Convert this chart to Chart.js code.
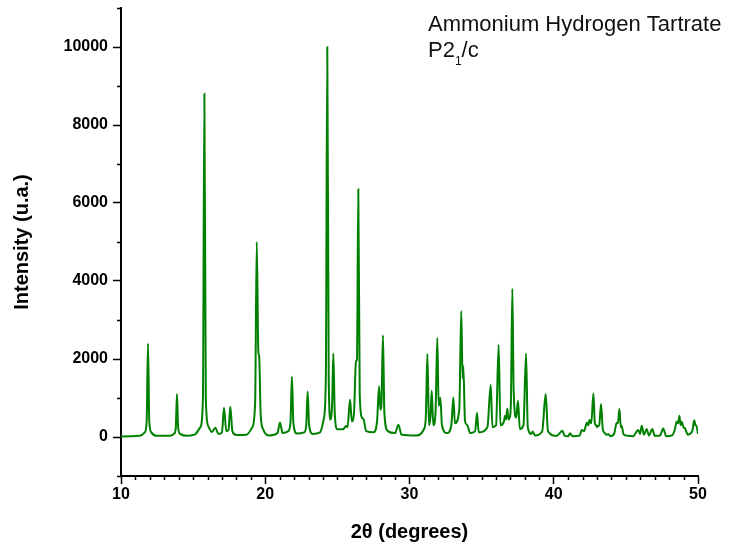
<!DOCTYPE html>
<html>
<head>
<meta charset="utf-8">
<title>Ammonium Hydrogen Tartrate – XRD</title>
<script src="https://cdn.jsdelivr.net/npm/chart.js@4.4.1/dist/chart.umd.min.js"></script>
<style>
  html, body { margin: 0; padding: 0; background: #fff; }
  #wrap { width: 738px; height: 547px; position: relative; }
</style>
</head>
<body>
<div id="wrap"><canvas id="xrd"></canvas></div>
<script>
'use strict';

/* ─── Data (2θ in degrees, intensity in u.a.) ─── */
const twoTheta = [
  10.0, 11.3, 11.65, 11.78, 11.87, 11.96, 12.1, 12.5,
  13.4, 13.7, 13.8, 13.88, 13.96, 14.1, 14.6,
  15.1, 15.5, 15.68, 15.78, 15.88, 16.05, 16.3, 16.54, 16.75,
  17.0, 17.14, 17.3, 17.45, 17.58, 17.72, 18.0,
  18.7, 19.1, 19.3, 19.41, 19.52, 19.58, 19.68, 19.85,
  20.3, 20.85, 21.02, 21.2, 21.6, 21.75, 21.85, 21.95, 22.2,
  22.7, 22.84, 22.94, 23.04, 23.3,
  23.8, 24.05, 24.2, 24.3, 24.4, 24.52, 24.64, 24.72, 24.82, 25.0,
  25.4, 25.6, 25.7, 25.88, 26.0, 26.15, 26.29, 26.36, 26.45, 26.55, 26.7, 26.82, 27.0,
  27.5, 27.75, 27.89, 27.98, 28.05, 28.16, 28.26, 28.5,
  29.0, 29.23, 29.45,
  30.5, 31.0, 31.13, 31.24, 31.35, 31.45, 31.54, 31.65, 31.8, 31.93, 32.02, 32.14, 32.25,
  32.6, 32.9, 33.04, 33.15, 33.45, 33.59, 33.68, 33.73, 33.85, 34.01, 34.2,
  34.55, 34.68, 34.8, 35.4, 35.63, 35.75,
  36.0, 36.18, 36.3, 36.55, 36.62, 36.7, 36.78, 36.86, 36.95, 37.03, 37.13, 37.22, 37.4, 37.52, 37.65,
  37.9, 38.08, 38.2, 38.45, 38.54, 38.7,
  39.2, 39.44, 39.6, 40.2, 40.6, 40.75, 41.0, 41.13, 41.3,
  41.8, 41.94, 42.1, 42.3, 42.4, 42.47, 42.6, 42.75, 42.85, 42.93, 43.0, 43.05, 43.15, 43.28, 43.4,
  43.55, 43.65, 43.78, 43.95, 44.2, 44.36, 44.45, 44.55, 44.65, 44.71, 44.85,
  45.5, 45.86, 45.98, 46.1, 46.25, 46.44, 46.6, 46.83, 47.0,
  47.35, 47.59, 47.8, 48.2, 48.4, 48.52, 48.62, 48.71, 48.8, 48.87, 49.0, 49.1, 49.3,
  49.6, 49.74, 49.82, 49.88, 50.0
];

const intensity = [
  10, 30, 120, 400, 2400, 400, 120, 30,
  30, 90, 250, 1100, 250, 80, 30,
  60, 250, 1000, 8800, 1000, 280, 130, 240, 80,
  120, 750, 150, 180, 775, 150, 50,
  60, 250, 900, 5000, 2200, 2070, 600, 200,
  40, 100, 375, 100, 150, 400, 1550, 350, 90,
  120, 300, 1165, 300, 80,
  120, 450, 1500, 10000, 1500, 450, 900, 2140, 600, 200,
  200, 280, 250, 960, 400, 600, 1940, 2000, 6350, 1100, 500, 450, 150,
  120, 400, 1300, 700, 800, 2610, 600, 150,
  100, 315, 60,
  40, 200, 500, 2130, 300, 500, 1185, 300, 600, 2540, 800, 1005, 300,
  100, 300, 1015, 350, 700, 3230, 1500, 1825, 400, 305, 100,
  150, 620, 120, 250, 1340, 250,
  300, 2370, 300, 400, 545, 450, 730, 450, 500, 900, 3800, 1200, 500, 930, 200,
  300, 2140, 250, 80, 140, 40,
  150, 1100, 150, 30, 160, 30, 20, 95, 20,
  40, 180, 150, 365, 300, 435, 350, 1115, 350, 305, 250, 280, 300, 845, 200,
  95, 60, 70, 20, 100, 365, 350, 715, 250, 280, 60,
  20, 180, 80, 290, 60, 205, 40, 205, 30,
  30, 215, 20, 40, 200, 390, 350, 545, 300, 390, 250, 220, 60,
  150, 430, 300, 300, 80
];

/* ─── Axes ─── */
const xMajorTicks = [10, 20, 30, 40, 50];
const xMinorTicks = [11, 12, 13, 14, 15, 16, 17, 18, 19, 21, 22, 23, 24, 25, 26, 27, 28, 29,
                     31, 32, 33, 34, 35, 36, 37, 38, 39, 41, 42, 43, 44, 45, 46, 47, 48, 49];
const yMajorTicks = [0, 2000, 4000, 6000, 8000, 10000];
const yMinorTicks = [-1000, 1000, 3000, 5000, 7000, 9000, 11000];

const xTitle = '2\u03B8 (degrees)';
const yTitle = 'Intensity (u.a.)';
const noteLine1 = 'Ammonium Hydrogen Tartrate';
const noteLine2 = ['P2', '1', '/c'];   // main, subscript, rest

const FONT = "'Liberation Sans', Arial, Helvetica, sans-serif";

/* ─── Minor ticks + annotation ─── */
const extras = {
  id: 'extras',
  afterDraw(chart) {
    const { ctx, scales: { x, y } } = chart;
    ctx.save();
    ctx.strokeStyle = '#000';
    ctx.lineWidth = 1.5;
    ctx.beginPath();
    xMinorTicks.forEach(v => {
      const px = Math.round(x.getPixelForValue(v)) + 0.5;
      ctx.moveTo(px, y.bottom);
      ctx.lineTo(px, y.bottom + 4);
    });
    yMinorTicks.forEach(v => {
      const py = Math.round(y.getPixelForValue(v)) + 0.5;
      ctx.moveTo(x.left, py);
      ctx.lineTo(x.left - 4, py);
    });
    ctx.stroke();

    ctx.fillStyle = '#111';
    ctx.textBaseline = 'alphabetic';
    ctx.font = `22px ${FONT}`;
    ctx.fillText(noteLine1, 428, 31);
    let tx = 428;
    ctx.fillText(noteLine2[0], tx, 57);
    tx += ctx.measureText(noteLine2[0]).width;
    ctx.font = `12px ${FONT}`;
    ctx.fillText(noteLine2[1], tx, 65);
    tx += ctx.measureText(noteLine2[1]).width;
    ctx.font = `22px ${FONT}`;
    ctx.fillText(noteLine2[2], tx, 57);
    ctx.restore();
  }
};

const ctx = document.getElementById('xrd').getContext('2d');
new Chart(ctx, {
  type: 'line',
  data: {
    datasets: [{
      data: twoTheta.map((t, i) => ({ x: t, y: intensity[i] })),
      borderColor: '#008000',
      borderWidth: 2,
      pointRadius: 0,
      cubicInterpolationMode: 'monotone',
      fill: false,
    }]
  },
  options: {
    responsive: true,
    maintainAspectRatio: false,
    animation: false,
    layout: { padding: { left: 0, right: 40, top: 8, bottom: 0 } },
    plugins: { legend: { display: false }, tooltip: { enabled: false } },
    scales: {
      x: {
        type: 'linear',
        min: 10, max: 50,
        afterBuildTicks: s => { s.ticks = xMajorTicks.map(v => ({ value: v })); },
        afterFit: s => { s.height = 71; s.paddingLeft = 0; s.paddingRight = 0; },
        grid: { drawOnChartArea: false, drawTicks: true, tickLength: 8, tickColor: '#000', tickWidth: 1.5 },
        border: { display: true, color: '#000', width: 2 },
        ticks: { color: '#000', padding: 1, maxRotation: 0, font: { family: FONT, size: 16, weight: 'bold' } },
        title: { display: true, text: xTitle, color: '#000', padding: { top: 0, bottom: 3 },
                 font: { family: FONT, size: 20, weight: 'bold' } },
      },
      y: {
        min: -1000, max: 11000,
        afterBuildTicks: s => { s.ticks = yMajorTicks.map(v => ({ value: v })); },
        afterFit: s => { s.width = 121; s.paddingTop = 0; s.paddingBottom = 0; },
        grid: { drawOnChartArea: false, drawTicks: true, tickLength: 8, tickColor: '#000', tickWidth: 1.5 },
        border: { display: true, color: '#000', width: 2 },
        ticks: { color: '#000', padding: 5, font: { family: FONT, size: 16, weight: 'bold' },
                 callback: v => String(v) },
        title: { display: true, text: yTitle, color: '#000', padding: { top: 10, bottom: 0 },
                 font: { family: FONT, size: 20, weight: 'bold' } },
      },
    },
  },
  plugins: [extras],
});
</script>
</body>
</html>
